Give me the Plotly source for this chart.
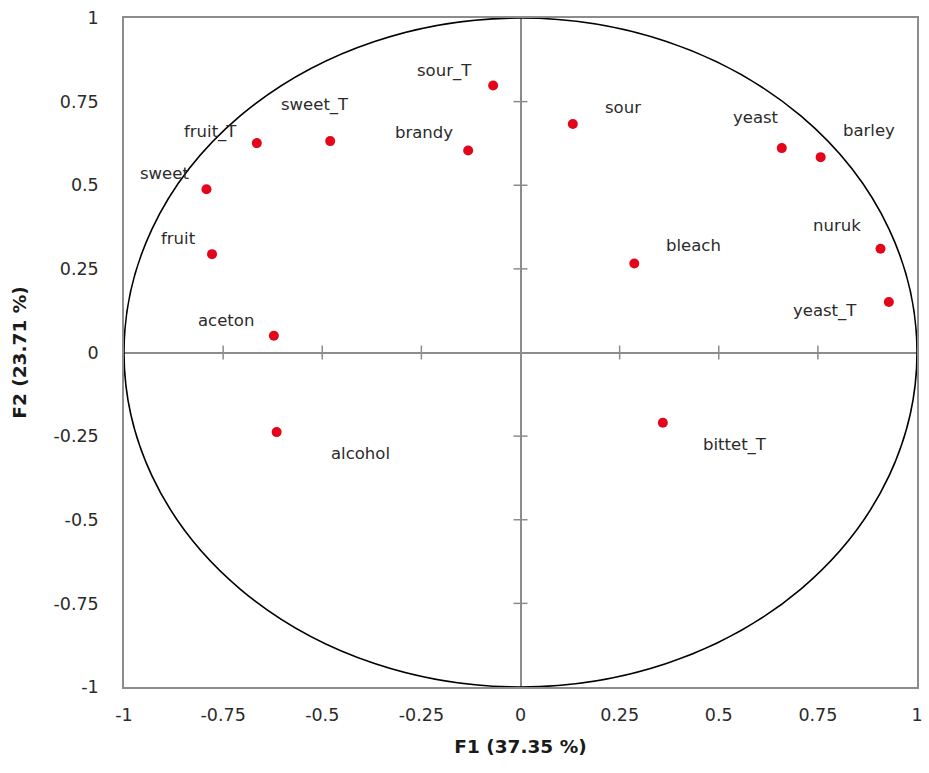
import plotly.graph_objects as go

# Correlation circle: variable loadings on the first two factors
variables = ["sour_T", "sour", "brandy", "sweet_T", "fruit_T", "sweet", "fruit",
             "aceton", "alcohol", "bittet_T", "bleach", "yeast", "barley",
             "nuruk", "yeast_T"]
f1 = [-0.069, 0.132, -0.132, -0.480, -0.665, -0.792, -0.778,
      -0.622, -0.615, 0.359, 0.287, 0.659, 0.757, 0.908, 0.929]
f2 = [0.798, 0.683, 0.604, 0.632, 0.626, 0.488, 0.294,
      0.050, -0.238, -0.210, 0.266, 0.611, 0.584, 0.310, 0.151]

tick_vals = [-1, -0.75, -0.5, -0.25, 0, 0.25, 0.5, 0.75, 1]
tick_text = ["-1", "-0.75", "-0.5", "-0.25", "0", "0.25", "0.5", "0.75", "1"]

x_title = "F1 (37.35 %)"
y_title = "F2 (23.71 %)"

# label placement relative to each point (pixels, right / up)
label_shift = {
    "sour_T": (-49, 15), "sour": (50, 17), "brandy": (-44, 18),
    "sweet_T": (-15, 36), "fruit_T": (-46, 11), "sweet": (-42, 16),
    "fruit": (-34, 16), "aceton": (-48, 15), "alcohol": (84, -21),
    "bittet_T": (72, -22), "bleach": (59, 18), "yeast": (-26, 31),
    "barley": (48, 27), "nuruk": (-44, 23), "yeast_T": (-64, -9),
}

axis_grey = "#8c8c8c"
text_col = "#2b2b2b"
font_family = "DejaVu Sans"

fig = go.Figure()

fig.add_trace(go.Scatter(
    x=f1, y=f2, mode="markers",
    marker=dict(color="#e3061b", size=10, line=dict(width=0)),
    hovertext=variables, hoverinfo="text", showlegend=False,
))

# unit circle
fig.add_shape(type="circle", xref="x", yref="y", x0=-1, y0=-1, x1=1, y1=1,
              line=dict(color="black", width=1.6), layer="above")

# cross ticks on the zero axes
for v in tick_vals:
    if v in (-1, 0, 1):
        continue
    fig.add_shape(type="line", xref="x", yref="y", x0=v, x1=v,
                  ysizemode="pixel", yanchor=0, y0=-7, y1=7,
                  line=dict(color=axis_grey, width=1.5), layer="below")
    fig.add_shape(type="line", xref="x", yref="y", y0=v, y1=v,
                  xsizemode="pixel", xanchor=0, x0=-7, x1=7,
                  line=dict(color=axis_grey, width=1.5), layer="below")

for name, x, y in zip(variables, f1, f2):
    dx, dy = label_shift[name]
    fig.add_annotation(x=x, y=y, text=name, showarrow=False,
                       xshift=dx, yshift=dy,
                       font=dict(family=font_family, size=16.5, color=text_col))

axis_common = dict(
    range=[-1, 1], tickvals=tick_vals, ticktext=tick_text,
    showgrid=False, zeroline=True, zerolinecolor=axis_grey, zerolinewidth=1.5,
    showline=True, mirror=True, linecolor=axis_grey, linewidth=1.5,
    ticks="", tickfont=dict(family=font_family, size=17.5, color=text_col),
    fixedrange=True, automargin=False,
)

fig.update_layout(
    width=929, height=773,
    margin=dict(l=124, r=12, t=18, b=86),
    paper_bgcolor="white", plot_bgcolor="white",
    xaxis=dict(**axis_common, ticklabelstandoff=11,
               title=dict(text=x_title, standoff=16,
                          font=dict(family=font_family, size=18.5, color="#1a1a1a",
                                    weight="bold"))),
    yaxis=dict(**axis_common, ticklabelstandoff=20,
               title=dict(text=y_title, standoff=22,
                          font=dict(family=font_family, size=18.5, color="#1a1a1a",
                                    weight="bold"))),
)

fig.write_html("out.html")
